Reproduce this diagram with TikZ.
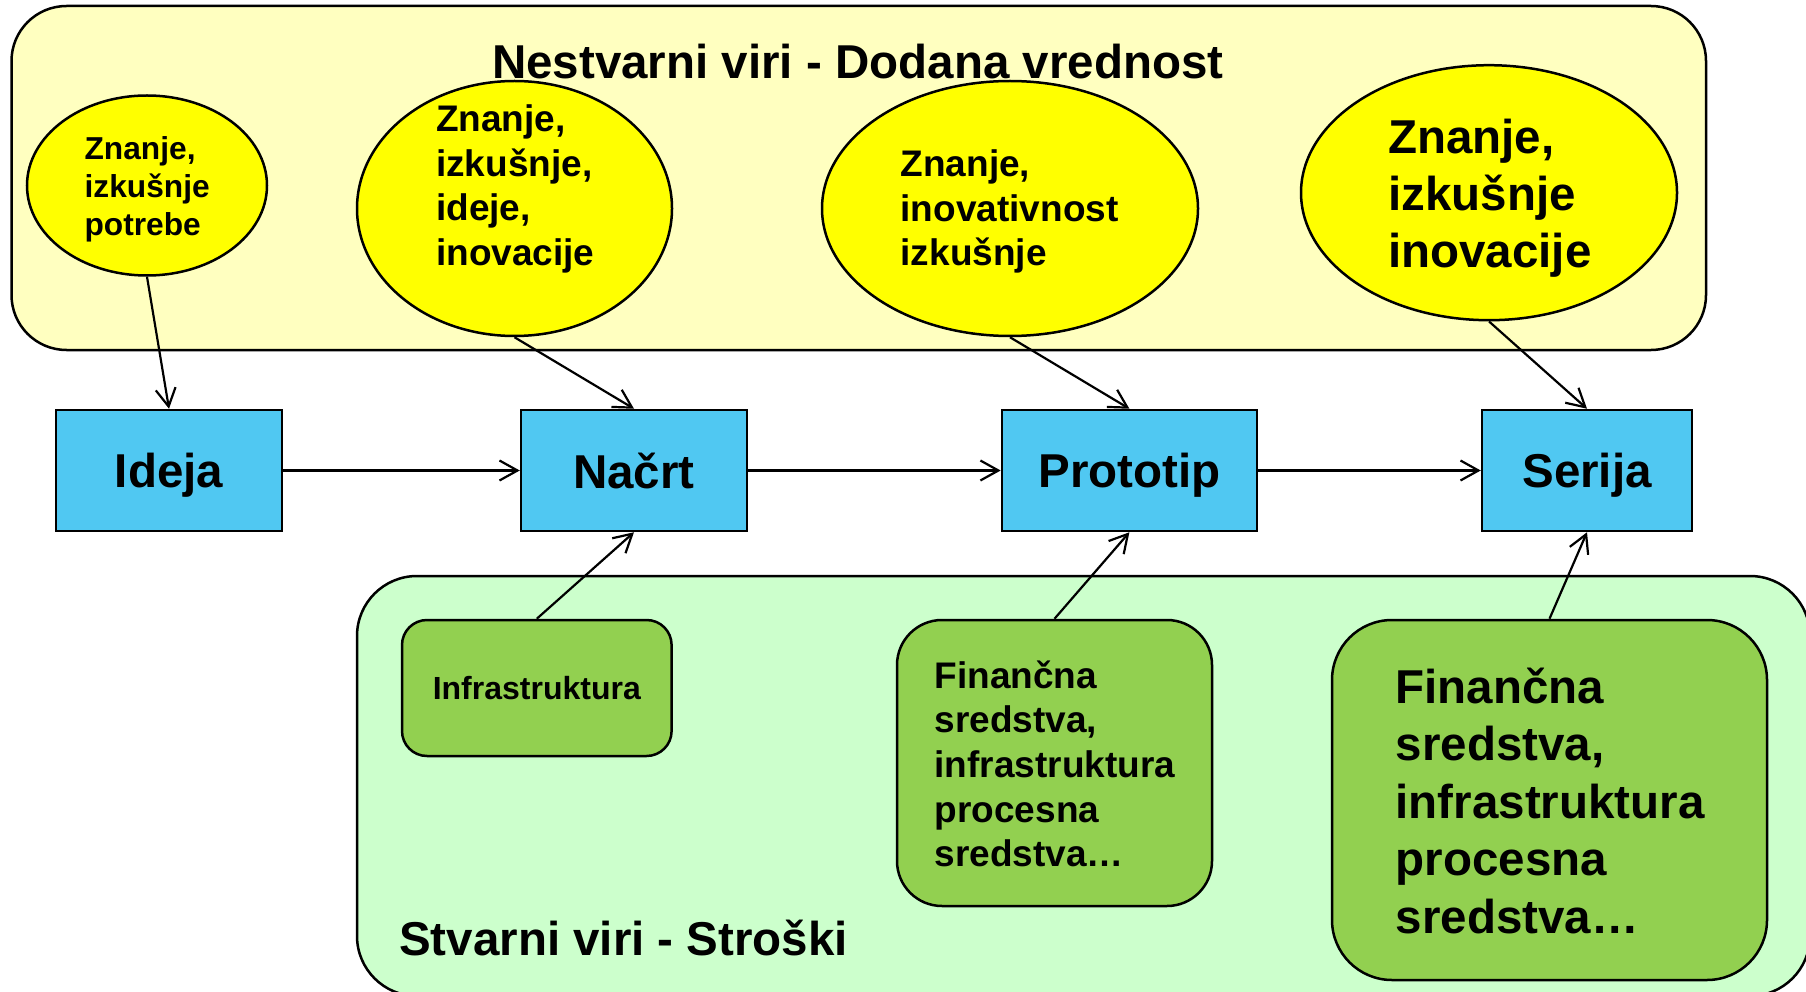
\documentclass[tikz,border=0pt]{standalone}
\usepackage{fontspec}
\setmainfont{Liberation Sans}
\usetikzlibrary{shapes.geometric,arrows.meta}
\definecolor{paleyellow}{RGB}{255,255,192}
\definecolor{blobyellow}{RGB}{255,255,0}
\definecolor{stageblue}{RGB}{80,200,242}
\definecolor{palegreen}{RGB}{204,255,204}
\definecolor{resgreen}{RGB}{146,208,80}
\newcommand{\fs}[2]{\fontsize{#1}{#2}\selectfont\bfseries}
\tikzset{
  conn/.style={line width=2.2pt, -{Straight Barb[length=18pt,width=20pt]}},
  stagebox/.style={draw, line width=2.5pt, fill=stageblue, minimum height=121pt, inner sep=0pt, text depth=0pt, font=\fs{47.5}{57}},
  blob/.style={ellipse, draw, line width=2.5pt, fill=blobyellow, inner sep=0pt},
  region/.style={draw, line width=2.5pt},
  resbox/.style={draw, line width=2.5pt, fill=resgreen, inner sep=0pt},
  txt/.style={anchor=base west, align=left, inner sep=0pt},
}
\begin{document}
\begin{tikzpicture}[x=1pt,y=-1pt]
\useasboundingbox (0,0) rectangle (1806,992);
% regions
\draw[region, fill=paleyellow, rounded corners=55pt] (11.5,6) rectangle (1706,350);
\draw[region, fill=palegreen, rounded corners=60pt] (357,576) rectangle (1810,996);
\node[txt, font=\fs{47.5}{57}] (title) at (492,78.6) {Nestvarni viri - Dodana vrednost};
\node[txt, font=\fs{47.5}{57}] (costs) at (399,955) {Stvarni viri - Stroški};
% ellipses
\node[blob, minimum width=240pt, minimum height=180pt] (e1) at (147,185.5) {};
\node[blob, minimum width=315pt, minimum height=255pt] (e2) at (514.5,208.5) {};
\node[blob, minimum width=376pt, minimum height=255pt] (e3) at (1010,208.5) {};
\node[blob, minimum width=376pt, minimum height=255pt] (e4) at (1489,192.7) {};
\node[txt, text width=140pt, font=\fs{31.7}{37.7}] (t1) at (84.4,160) {Znanje,\\izkušnje\\potrebe};
\node[txt, text width=170pt, font=\fs{37}{44.8}] (t2) at (436,131.4) {Znanje,\\izkušnje,\\ideje,\\inovacije};
\node[txt, text width=230pt, font=\fs{37}{44.6}] (t3) at (900.5,176.8) {Znanje,\\inovativnost\\izkušnje};
\node[txt, text width=220pt, font=\fs{47.5}{57.2}] (t4) at (1388,153.6) {Znanje,\\izkušnje\\inovacije};
% stages
\node[stagebox, minimum width=226pt] (ideja) at (169,470.5) {Ideja};
\node[stagebox, minimum width=226pt] (nacrt) at (634,470.5) {Načrt};
\node[stagebox, minimum width=255pt] (proto) at (1129.4,470.5) {Prototip};
\node[stagebox, minimum width=210pt] (serija) at (1587,470.5) {Serija};
% resources
\node[resbox, rounded corners=25pt, minimum width=269.6pt, minimum height=136pt, font=\fs{32}{38}] (infra) at (536.8,688) {Infrastruktura};
\node[resbox, rounded corners=45pt, minimum width=315pt, minimum height=286pt] (fin1) at (1054.5,763) {};
\node[resbox, rounded corners=60pt, minimum width=435pt, minimum height=360pt] (fin2) at (1549.5,800) {};
\node[txt, text width=260pt, font=\fs{37}{44.7}] (ft1) at (934.5,688) {Finančna\\sredstva,\\infrastruktura\\procesna\\sredstva…};
\node[txt, text width=340pt, font=\fs{47.5}{57.5}] (ft2) at (1395.5,703) {Finančna\\sredstva,\\infrastruktura\\procesna\\sredstva…};
% connectors
\draw[conn] (e1.south) -- (ideja.north);
\draw[conn] (e2.south) -- (nacrt.north);
\draw[conn] (e3.south) -- (proto.north);
\draw[conn] (e4.south) -- (serija.north);
\draw[conn] (ideja) -- (nacrt);
\draw[conn] (nacrt) -- (proto);
\draw[conn] (proto) -- (serija);
\draw[conn] (infra.north) -- (nacrt.south);
\draw[conn] (fin1.north) -- (proto.south);
\draw[conn] (fin2.north) -- (serija.south);
\end{tikzpicture}
\end{document}
